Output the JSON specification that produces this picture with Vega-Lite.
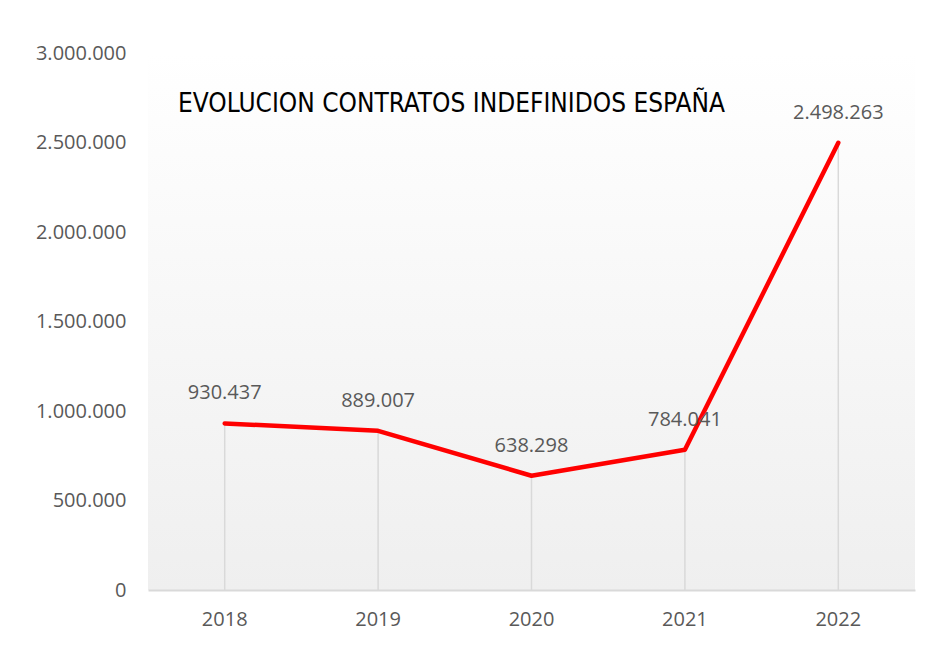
{
  "$schema": "https://vega.github.io/schema/vega-lite/v6.json",
  "width": 767,
  "height": 537,
  "autosize": "none",
  "padding": {"left": 148, "top": 53, "right": 16, "bottom": 56},
  "background": "white",
  "title": {
    "text": "EVOLUCION CONTRATOS INDEFINIDOS ESPAÑA",
    "anchor": "start",
    "frame": "group",
    "orient": "top",
    "baseline": "alphabetic",
    "offset": -95,
    "dx": 30,
    "font": "Liberation Sans Narrow, DejaVu Sans Condensed, sans-serif",
    "fontSize": 26,
    "fontWeight": "normal",
    "color": "#000000"
  },
  "config": {
    "locale": {"number": {"decimal": ",", "thousands": ".", "grouping": [3], "currency": ["", " €"]}},
    "view": {
      "stroke": null,
      "fill": {"gradient": "linear", "x1": 0, "y1": 0, "x2": 0, "y2": 1,
        "stops": [{"offset": 0, "color": "#ffffff"}, {"offset": 1, "color": "#efefef"}]}
    },
    "font": "Open Sans"
  },
  "data": {
    "values": [
      {"year": "2018", "value": 930437},
      {"year": "2019", "value": 889007},
      {"year": "2020", "value": 638298},
      {"year": "2021", "value": 784041},
      {"year": "2022", "value": 2498263}
    ]
  },
  "encoding": {
    "x": {
      "field": "year", "type": "ordinal",
      "scale": {"type": "band", "paddingInner": 0, "paddingOuter": 0},
      "axis": {
        "title": null, "labelAngle": 0, "ticks": false, "domainColor": "#d9d9d9", "domainWidth": 2,
        "labelFontSize": 20, "labelColor": "#595959", "labelPadding": 19, "labelFont": "Open Sans"
      }
    },
    "y": {
      "field": "value", "type": "quantitative",
      "scale": {"domain": [0, 3000000], "nice": false},
      "axis": {
        "title": null, "domain": false, "ticks": false, "grid": false,
        "values": [0, 500000, 1000000, 1500000, 2000000, 2500000, 3000000],
        "format": ",d", "labelFontSize": 20, "labelColor": "#595959", "labelPadding": 22, "labelFont": "Open Sans"
      }
    }
  },
  "layer": [
    {
      "mark": {"type": "rule", "color": "#d9d9d9", "strokeWidth": 1.5},
      "encoding": {"y2": {"datum": 0}}
    },
    {
      "mark": {"type": "line", "color": "#ff0000", "strokeWidth": 4.5, "strokeCap": "round", "strokeJoin": "round"}
    },
    {
      "mark": {"type": "text", "dy": -30, "baseline": "middle", "fontSize": 20, "color": "#595959", "font": "Open Sans"},
      "encoding": {"text": {"field": "value", "type": "quantitative", "format": ",d"}}
    }
  ]
}
